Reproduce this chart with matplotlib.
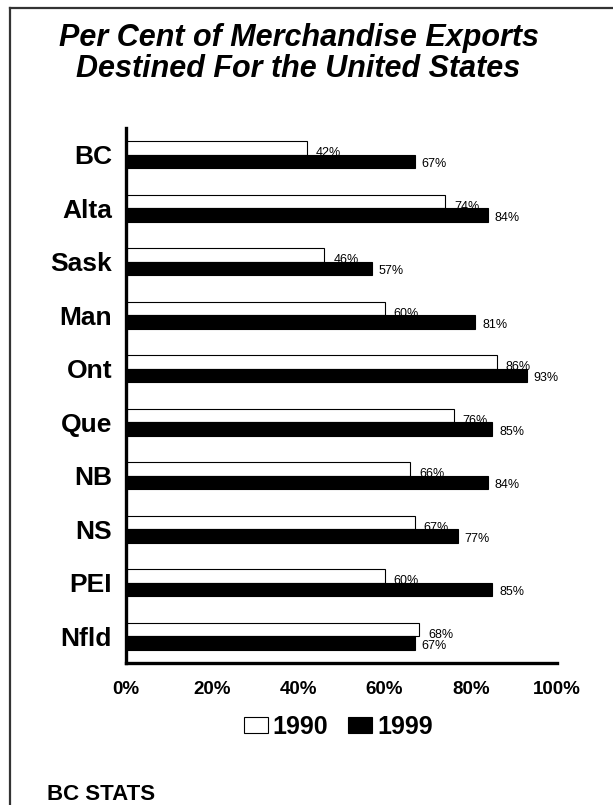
import matplotlib
matplotlib.use("Agg")
import matplotlib.pyplot as plt
from matplotlib.patches import Patch
from matplotlib.lines import Line2D

plt.rcParams["font.family"] = ["Liberation Sans", "DejaVu Sans"]

# data
provinces = ["BC", "Alta", "Sask", "Man", "Ont", "Que", "NB", "NS", "PEI", "Nfld"]
pct_1990 = [42, 74, 46, 60, 86, 76, 66, 67, 60, 68]
pct_1999 = [67, 84, 57, 81, 93, 85, 84, 77, 85, 67]
x_ticks = [0, 20, 40, 60, 80, 100]
x_ticklabels = ["0%", "20%", "40%", "60%", "80%", "100%"]
series_names = ["1990", "1999"]

W, H = 613, 805
fig = plt.figure(figsize=(W / 100, H / 100), dpi=100)

# outer frame (only top and left edges visible in the crop)
frame_kw = dict(color="#333333", linewidth=1.6, transform=fig.transFigure)
fig.add_artist(Line2D([9.5 / W, 1], [1 - 8.5 / H, 1 - 8.5 / H], **frame_kw))
fig.add_artist(Line2D([9.5 / W, 9.5 / W], [0, 1 - 8.5 / H], **frame_kw))

ax = fig.add_axes([126 / W, 1 - 663 / H, (557 - 126) / W, (663 - 128) / H])

bh = 0.25
pos = list(range(len(provinces)))
y90 = [p - bh / 2 for p in pos]
y99 = [p + bh / 2 for p in pos]

ax.barh(y90, pct_1990, height=bh, color="white", edgecolor="black",
        linewidth=0.8, zorder=1)
ax.barh(y99, pct_1999, height=bh, color="black", edgecolor="black",
        linewidth=0.8, zorder=3)

# value labels (1990 labels sit on the edge of the 1999 bars, partly hidden)
for p, v in zip(pos, pct_1990):
    ax.annotate(f"{v}%", (v, p + 0.03), xytext=(6.5, 0), textcoords="offset points",
                va="baseline", ha="left", fontsize=9, zorder=2)
for y, v in zip(y99, pct_1999):
    ax.annotate(f"{v}%", (v, y + 0.05), xytext=(5, 0), textcoords="offset points",
                va="center", ha="left", fontsize=9, zorder=4)

ax.set_xlim(0, 100)
ax.set_ylim(len(provinces) - 0.5, -0.5)
ax.set_yticks(pos)
ax.set_yticklabels(provinces, fontsize=19, fontweight="bold")
ax.set_xticks(x_ticks)
ax.set_xticklabels(x_ticklabels, fontsize=13.5, fontweight="bold")
ax.tick_params(axis="x", length=0, pad=13)
ax.tick_params(axis="y", length=0, pad=10)

for s in ["top", "right"]:
    ax.spines[s].set_visible(False)
for s in ["left", "bottom"]:
    ax.spines[s].set_linewidth(2.4)
    ax.spines[s].set_color("black")

# title
fig.text(0.487, 1 - 46 / H, "Per Cent of Merchandise Exports", ha="center",
         va="baseline", fontsize=22, fontweight="bold", fontstyle="italic")
fig.text(0.487, 1 - 77 / H, "Destined For the United States", ha="center",
         va="baseline", fontsize=22, fontweight="bold", fontstyle="italic")

# legend
handles = [Patch(facecolor="white", edgecolor="black", linewidth=0.8),
           Patch(facecolor="black", edgecolor="black", linewidth=0.8)]
fig.legend(handles, series_names, loc="center", bbox_to_anchor=(0.552, 1 - 727 / H),
           ncol=2, frameon=False, prop={"weight": "bold", "size": 18},
           handlelength=0.96, handleheight=0.6, handletextpad=0.2,
           columnspacing=0.8, borderpad=0)

fig.text(47 / W, 1 - 800 / H, "BC STATS", ha="left", va="baseline",
         fontsize=16, fontweight="bold")

fig.savefig("out.png", dpi=100)
